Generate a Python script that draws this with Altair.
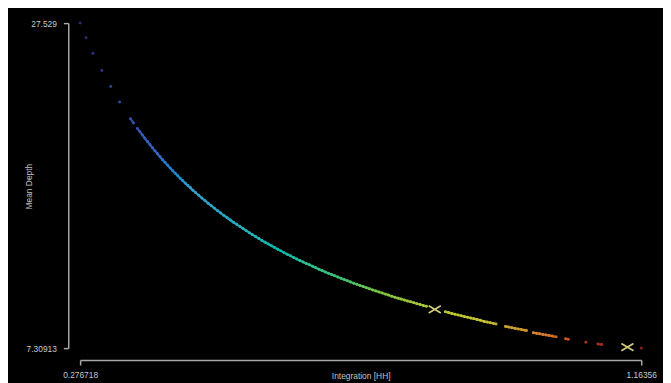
import altair as alt
import pandas as pd

# --- data ---
integration = [
    0.276718, 0.2861, 0.2970, 0.3110, 0.3251, 0.3392, 0.3564, 0.3611, 0.3673,
    0.371, 0.375, 0.379, 0.383, 0.387, 0.391, 0.395, 0.399, 0.403, 0.407,
    0.411, 0.415, 0.419, 0.423, 0.427, 0.431, 0.435, 0.439, 0.443, 0.447,
    0.451, 0.455, 0.459,
    0.464, 0.469, 0.474, 0.479, 0.484, 0.489, 0.494, 0.499, 0.504, 0.509,
    0.514, 0.519, 0.524, 0.529, 0.534, 0.539, 0.544, 0.549, 0.554, 0.559,
    0.564, 0.569, 0.574, 0.579, 0.584, 0.589, 0.594, 0.599, 0.604, 0.609,
    0.614, 0.619, 0.624, 0.629, 0.634, 0.639, 0.644, 0.649, 0.654, 0.659,
    0.664, 0.669, 0.674, 0.679, 0.684, 0.689, 0.694, 0.699, 0.704, 0.709,
    0.714, 0.719, 0.724, 0.729, 0.734, 0.739, 0.744, 0.749, 0.754, 0.759,
    0.764, 0.769, 0.774, 0.779, 0.784, 0.789, 0.794, 0.799, 0.804, 0.809,
    0.814, 0.819, 0.824,
    0.854, 0.859, 0.864, 0.869, 0.874, 0.879, 0.884, 0.889, 0.894, 0.899,
    0.904, 0.909,
    0.915, 0.920, 0.925, 0.930, 0.934,
    0.949, 0.954, 0.959, 0.964, 0.969, 0.974, 0.979, 0.982,
    0.993, 0.998, 1.003, 1.008, 1.013, 1.018, 1.023, 1.029,
    1.044, 1.048, 1.076, 1.095, 1.101, 1.16356,
]
mean_depth = [
    27.529, 26.62, 25.64, 24.58, 23.58, 22.62, 21.58, 21.31, 20.97,
    20.78, 20.57, 20.37, 20.16, 19.97, 19.77, 19.58, 19.40, 19.21, 19.03,
    18.86, 18.69, 18.52, 18.35, 18.19, 18.03, 17.87, 17.72, 17.57, 17.42,
    17.28, 17.13, 16.99,
    16.82, 16.65, 16.49, 16.32, 16.17, 16.01, 15.86, 15.71, 15.56, 15.42,
    15.28, 15.14, 15.01, 14.88, 14.75, 14.62, 14.49, 14.37, 14.25, 14.13,
    14.01, 13.90, 13.79, 13.68, 13.57, 13.46, 13.36, 13.25, 13.15, 13.05,
    12.95, 12.86, 12.76, 12.67, 12.58, 12.49, 12.40, 12.31, 12.22, 12.14,
    12.05, 11.97, 11.89, 11.81, 11.73, 11.65, 11.58, 11.50, 11.43, 11.35,
    11.28, 11.21, 11.14, 11.07, 11.00, 10.93, 10.87, 10.80, 10.74, 10.67,
    10.61, 10.54, 10.48, 10.42, 10.36, 10.30, 10.24, 10.19, 10.13, 10.07,
    10.02, 9.96, 9.91,
    9.57, 9.52, 9.47, 9.42, 9.37, 9.32, 9.27, 9.23, 9.18, 9.14,
    9.09, 9.05,
    8.97, 8.93, 8.89, 8.84, 8.81,
    8.66, 8.62, 8.58, 8.54, 8.50, 8.47, 8.43, 8.40,
    8.27, 8.23, 8.20, 8.16, 8.13, 8.09, 8.06, 8.01,
    7.89, 7.86, 7.67, 7.56, 7.53, 7.30913,
]

marker_integration = [0.8372, 1.1417]
marker_depth = [9.72, 7.37]

x_min, x_max = 0.276718, 1.16356
y_min, y_max = 7.30913, 27.529

df = pd.DataFrame({"Integration": integration, "Depth": mean_depth})
mk = pd.DataFrame({"Integration": marker_integration, "Depth": marker_depth})

# colour ramp (position along Integration -> colour)
color_stops = [0.2767, 0.3563, 0.4000, 0.4516, 0.5406, 0.6342, 0.6967, 0.7472,
               0.7748, 0.8372, 0.9106, 0.9340, 0.9621, 1.0090, 1.0449, 1.0761, 1.1636]
color_values = ["#2b2870", "#3250b0", "#3a68c8", "#38a0cc", "#2cb0bc", "#30c094",
                "#44c070", "#7cc444", "#90c63c", "#b4c834", "#c8c436", "#c0b030",
                "#cca030", "#d87a2c", "#cc5a22", "#a83222", "#882020"]

FONT = "Liberation Sans"

x_scale = alt.Scale(domain=[x_min, x_max], nice=False, zero=False)
y_scale = alt.Scale(domain=[y_min, y_max], nice=False, zero=False)
c_scale = alt.Scale(domain=color_stops, range=color_values)

x_axis = alt.Axis(
    title="Integration [HH]", values=[x_min, x_max], labelExpr="'' + datum.value",
    grid=False, offset=12, domainColor="#a8a8a8", domainWidth=1.5,
    tickColor="#a8a8a8", tickWidth=1.5, tickSize=5, labelColor="#c8c8c8",
    labelFont=FONT, labelFontSize=8.5, labelPadding=6, labelOverlap=False,
    labelFlush=False, titleColor="#c0c0c0", titleFont=FONT, titleFontSize=8.5,
    titleFontWeight="normal", titleY=19, titleBaseline="alphabetic",
)
y_axis = alt.Axis(
    title="Mean Depth", values=[y_min, y_max], labelExpr="'' + datum.value",
    grid=False, offset=12, domainColor="#a8a8a8", domainWidth=1.5,
    tickColor="#a8a8a8", tickWidth=1.5, tickSize=5, labelColor="#c8c8c8",
    labelFont=FONT, labelFontSize=8.5, labelPadding=7, labelOverlap=False,
    labelFlush=False, titleColor="#c0c0c0", titleFont=FONT, titleFontSize=8.5,
    titleFontWeight="normal", titleX=-37, titleY=165, titleBaseline="alphabetic",
    titleAngle=270,
)

points = alt.Chart(df).mark_circle(size=9, opacity=1).encode(
    x=alt.X("Integration:Q", scale=x_scale, axis=x_axis),
    y=alt.Y("Depth:Q", scale=y_scale, axis=y_axis),
    color=alt.Color("Integration:Q", scale=c_scale, legend=None),
)

# short segments joining neighbouring samples (only where the samples are dense)
segments = alt.Chart(df).transform_window(
    nx="lead(Integration)", ny="lead(Depth)",
    sort=[alt.SortField("Integration")],
).transform_filter(
    "isValid(datum.nx) && datum.nx - datum.Integration < 0.0062"
).mark_rule(strokeWidth=2.2, strokeCap="round", opacity=0.95).encode(
    x=alt.X("Integration:Q", scale=x_scale),
    y=alt.Y("Depth:Q", scale=y_scale),
    x2="nx:Q",
    y2="ny:Q",
    color=alt.Color("Integration:Q", scale=c_scale, legend=None),
)

markers = alt.Chart(mk).mark_point(
    shape="M-1,-0.6L1,0.6M-1,0.6L1,-0.6", size=150, filled=False,
    stroke="#d2cc7c", strokeWidth=1.6, opacity=1,
).encode(
    x=alt.X("Integration:Q", scale=x_scale),
    y=alt.Y("Depth:Q", scale=y_scale),
)

chart = alt.layer(segments, points, markers).properties(
    width=568, height=329,
    background="black",
    padding={"left": 73, "top": 13, "right": 22, "bottom": 33},
    autosize=alt.AutoSizeParams(type="none"),
).configure_view(stroke=None, fill="black")

chart.save("out.html", embed_options={"renderer": "svg", "actions": False})
